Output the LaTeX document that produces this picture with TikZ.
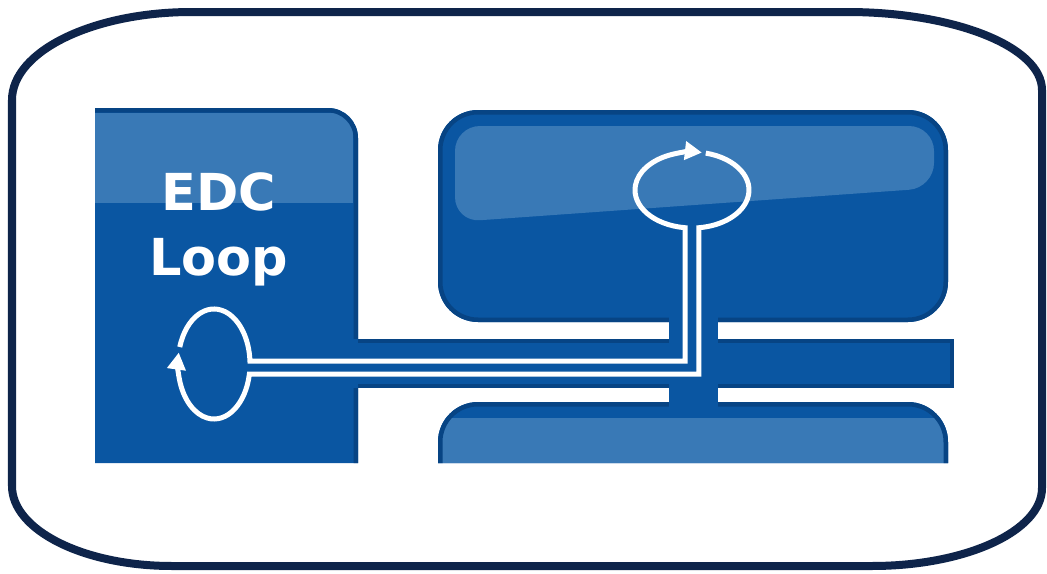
\documentclass[tikz,border=0pt]{standalone}
\usepackage{fontspec}
\newfontfamily\lblfont{DejaVu Sans}
\usetikzlibrary{arrows.meta,calc}
\definecolor{framenavy}{RGB}{14,36,74}
\definecolor{blockblue}{RGB}{10,86,162}
\definecolor{blocklight}{RGB}{57,121,182}
\definecolor{blockedge}{RGB}{7,68,132}

\begin{document}
\begin{tikzpicture}[x=0.2mm,y=0.2mm,
  blk/.style={fill=blockblue},
  rim/.style={draw=blockedge,line width=1.8mm},
  wire/.style={draw=white,line width=1mm},
  wiretip/.style={-{Triangle[length=3.4mm,width=3.6mm]}},
  lbl/.style={text=white,inner sep=0pt,font=\lblfont\bfseries\fontsize{29}{35}\selectfont}]
\fill[white] (0,0) rectangle (1047,573);
\useasboundingbox (0,0) rectangle (1047,573);

\draw[framenavy,line width=1.6mm] (192,561) -- (847,561) arc[start angle=90,end angle=0,x radius=195,y radius=78]
  -- (1042,85) arc[start angle=0,end angle=-90,x radius=170,y radius=78]
  -- (172,7) arc[start angle=270,end angle=180,x radius=160,y radius=80]
  -- (12,473) arc[start angle=180,end angle=90,x radius=180,y radius=88] -- cycle;

\begin{scope}
\clip (95,110) -- (95,465) -- (328,465) arc[start angle=90,end angle=0,radius=30] -- (358,110) -- cycle;
\fill[blk] (90,100) rectangle (370,470);
\fill[blocklight] (90,370) rectangle (353,460);
\draw[rim] (90,465) -- (328,465) arc[start angle=90,end angle=0,radius=30] -- (358,100);
\end{scope}

\begin{scope}
\clip[rounded corners=8mm] (438,251) rectangle (948,463);
\fill[blk] (430,240) rectangle (960,470);
\fill[blocklight,rounded corners=5mm] (455,351) -- (455,447) -- (934,447) -- (934,385) -- cycle;
\draw[rim,rounded corners=8mm] (438,251) rectangle (948,463);
\end{scope}

\begin{scope}
\clip (438,110) -- (438,131) arc[start angle=180,end angle=90,radius=40] -- (908,171) arc[start angle=90,end angle=0,radius=40] -- (948,110) -- cycle;
\fill[blk] (430,100) rectangle (960,180);
\fill[blocklight] (430,100) rectangle (960,155);
\draw[rim] (438,100) -- (438,131) arc[start angle=180,end angle=90,radius=40] -- (908,171) arc[start angle=90,end angle=0,radius=40] -- (948,100);
\end{scope}

\fill[blk] (352,185) rectangle (954,234);
\draw[blockedge,line width=0.8mm] (358,232) -- (952,232) -- (952,187) -- (358,187);
\fill[blk] (669,166) rectangle (718,256);

\coordinate (edcloop) at (214,209);
\coordinate (uploop) at (692,383);

\draw[wire,wiretip] ($(edcloop)+(162:36 and 55)$) arc[start angle=162,end angle=3,x radius=36,y radius=55]
  -| ($(uploop)+(263:57 and 38)$) arc[start angle=263,end angle=80,x radius=57,y radius=38];
\draw[wire,wiretip] ($(uploop)+(76:57 and 38)$) arc[start angle=76,end angle=-83,x radius=57,y radius=38]
  |- ($(edcloop)+(-10.5:36 and 55)$) arc[start angle=-10.5,end angle=-192,x radius=36,y radius=55];

\node[lbl,anchor=base] (edc) at (219,363) {EDC};
\node[lbl,anchor=base] (loop) at (219,298) {Loop};
\end{tikzpicture}
\end{document}
